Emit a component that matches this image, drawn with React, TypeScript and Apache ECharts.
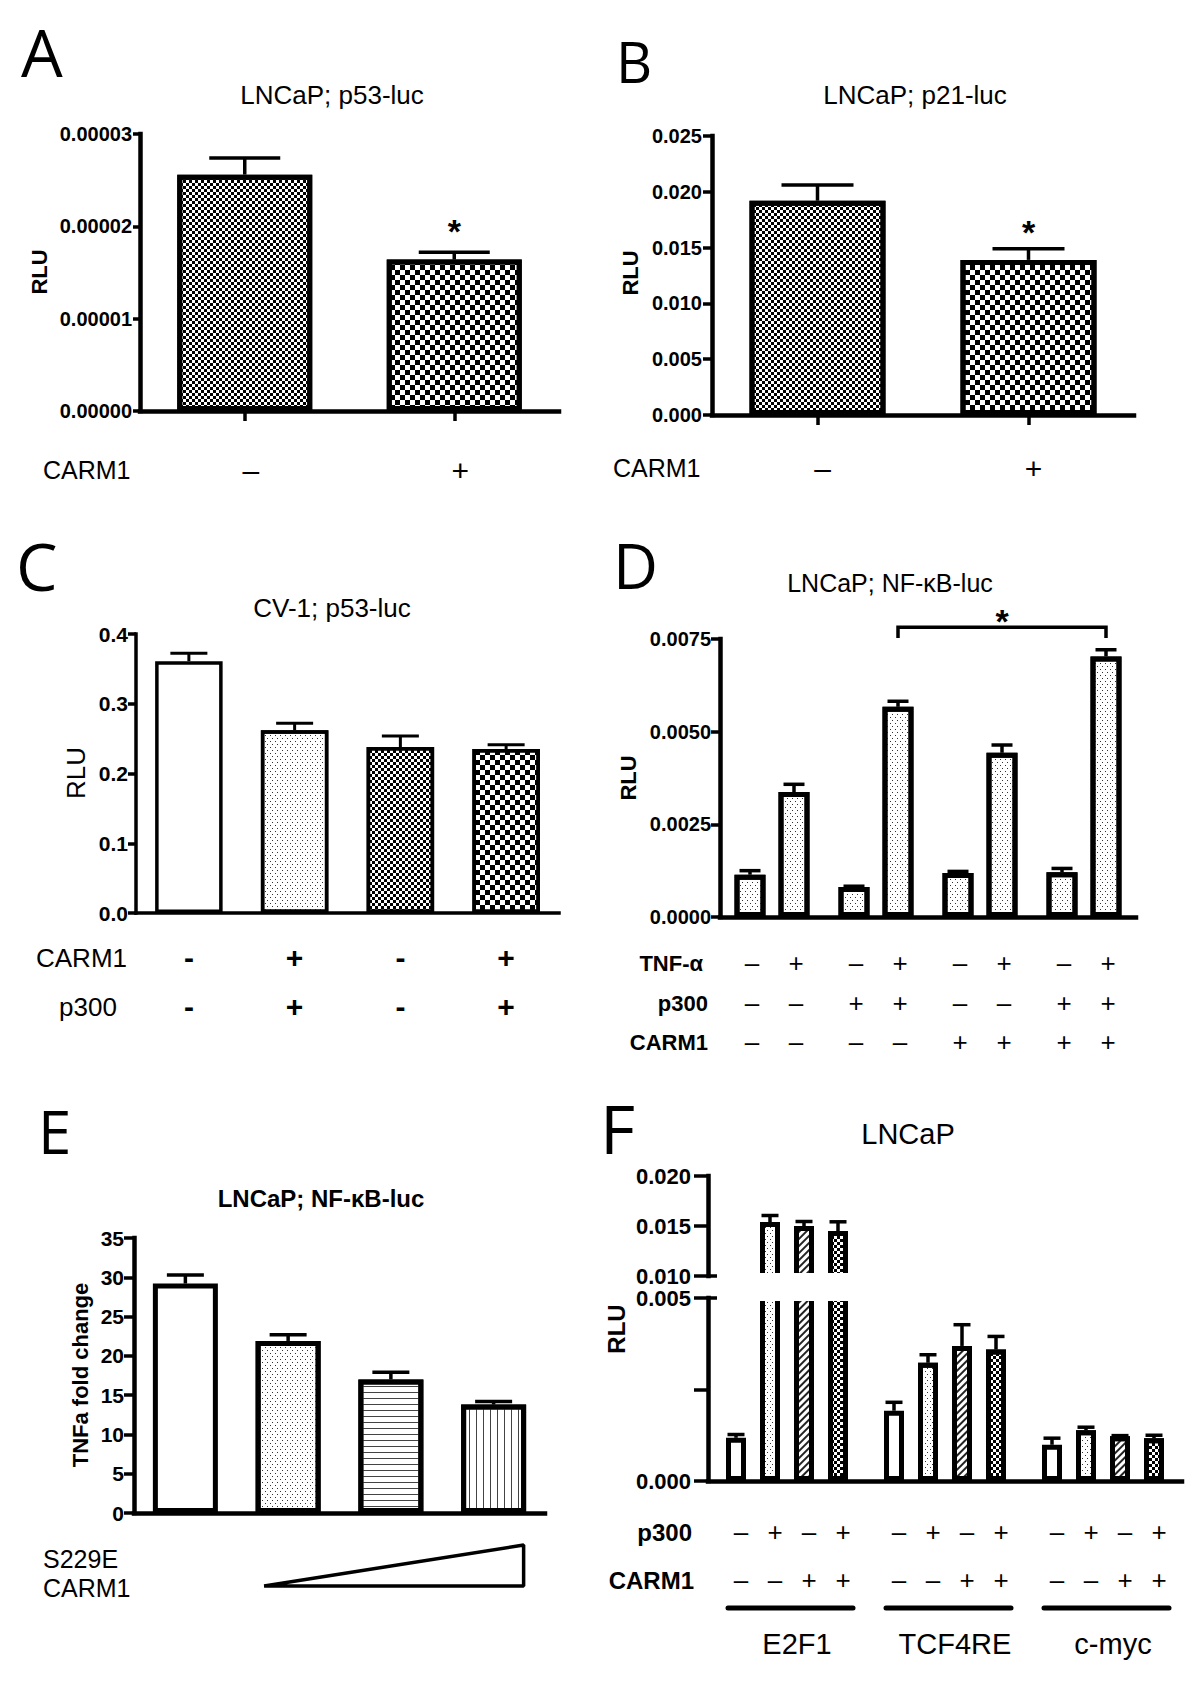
import React, { useEffect, useRef } from 'react';
import * as echarts from 'echarts';

const FONT = '"Liberation Sans", Arial, Helvetica, sans-serif';
const LETTER_FONT = '"Open Sans", "Noto Sans", "DejaVu Sans", sans-serif';

/* ---------------- data ---------------- */
// Panel A: LNCaP; p53-luc
const aCarm1Labels = ['–', '+'];
const aMeans = [2.56e-5, 1.64e-5];
const aErrors = [0.18e-5, 0.08e-5];
const aSignificant = [0, 1];
const aAxisMax = 0.00003;
const aAxisStep = 0.00001;

// Panel B: LNCaP; p21-luc
const bCarm1Labels = ['–', '+'];
const bMeans = [0.0192, 0.0139];
const bErrors = [0.0014, 0.001];
const bSignificant = [0, 1];
const bAxisMax = 0.025;
const bAxisStep = 0.005;

// Panel C: CV-1; p53-luc
const cConditions = ['ctrl', 'CARM1+p300', 'ctrl2', 'CARM1+p300 b'];
const cCarm1Labels = ['-', '+', '-', '+'];
const cP300Labels = ['-', '+', '-', '+'];
const cMeans = [0.361, 0.262, 0.238, 0.235];
const cErrors = [0.0115, 0.01, 0.0158, 0.0062];
const cAxisMax = 0.4;
const cAxisStep = 0.1;

// Panel D: LNCaP; NF-kB-luc
const dGroups = ['none', 'p300', 'CARM1', 'p300+CARM1'];
const dTnfLabels = ['–', '+'];
const dP300Labels = ['–', '+', '–', '+'];
const dCarm1Labels = ['–', '–', '+', '+'];
const dMeansTnfOff = [0.00114, 0.00081, 0.00119, 0.00121];
const dErrTnfOff = [0.00011, 0.00002, 0.00004, 0.0001];
const dMeansTnfOn = [0.00337, 0.00567, 0.00443, 0.00703];
const dErrTnfOn = [0.00021, 0.00015, 0.00021, 0.00018];
const dAxisMax = 0.0075;
const dAxisStep = 0.0025;
const dBracketLevel = 0.00782;
const dBracketFoot = 0.00753;

// Panel E: LNCaP; NF-kB-luc, S229E CARM1 dose
const eDoses = ['0', 'low', 'mid', 'high'];
const eMeans = [29.2, 21.9, 17.0, 13.8];
const eErrors = [1.1, 0.8, 0.9, 0.4];
const eAxisMax = 35;
const eAxisStep = 5;

// Panel F: LNCaP reporters
const fReporters = ['E2F1', 'TCF4RE', 'c-myc'];
const fP300Labels = ['–', '+', '–', '+'];
const fCarm1Labels = ['–', '–', '+', '+'];
const fMeansControl = [0.00118, 0.00192, 0.00099];
const fErrControl = [0.00009, 0.00023, 0.00018];
const fMeansP300 = [0.0154, 0.00323, 0.00139];
const fErrP300 = [0.00065, 0.00022, 0.00008];
const fMeansCarm1 = [0.015, 0.00369, 0.00122];
const fErrCarm1 = [0.00045, 0.00058, 0.00002];
const fMeansBoth = [0.0145, 0.00359, 0.00117];
const fErrBoth = [0.00092, 0.00036, 0.00008];
const fLowerMax = 0.005;
const fLowerStep = 0.0025;
const fLowerLabelled = [0, 0.005];
const fUpperMin = 0.01;
const fUpperMax = 0.02;
const fUpperStep = 0.005;

/* ---------------- layout ---------------- */
const GA = { left: 140, top: 134, width: 419, height: 277 };
const GB = { left: 712, top: 136, width: 422, height: 279 };
const GC = { left: 136, top: 634, width: 423, height: 279 };
const GD = { left: 720, top: 639, width: 416, height: 278 };
const GE = { left: 134, top: 1238, width: 411, height: 275 };
const GFL = { left: 708, top: 1298, width: 474, height: 183 };
const GFU = { left: 708, top: 1176, width: 474, height: 100 };

const AXIS_W = 4.5;
const BORDER = 5;
const D_BAR = 31;
const D_SPACING = 44;
const F_BAR = 20;
const F_SPACING = 34;

/* ---------------- patterns ---------------- */
const decalBase = {
  symbol: 'rect',
  symbolSize: 1,
  symbolKeepAspect: false,
  color: '#000',
  maxTileWidth: 256,
  maxTileHeight: 256,
};
const DECAL: any = {
  fine: { ...decalBase, dashArrayX: [[3, 3], [0, 3, 3, 0]], dashArrayY: [3, 0] },
  coarse: { ...decalBase, dashArrayX: [[5, 5], [0, 5, 5, 0]], dashArrayY: [5, 0] },
  dots: { ...decalBase, color: '#333', dashArrayX: [[1, 4], [0, 2, 1, 2]], dashArrayY: [1, 2] },
  hLines: { ...decalBase, color: '#444', dashArrayX: [1, 0], dashArrayY: [1, 5] },
  vLines: { ...decalBase, color: '#444', dashArrayX: [1, 6], dashArrayY: [1, 0] },
  hatch: { ...decalBase, color: '#222', dashArrayX: [1, 0], dashArrayY: [2, 3], rotation: -Math.PI / 4 },
};
const aPatterns = ['fine', 'coarse'];
const bPatterns = ['fine', 'coarse'];
const cPatterns = ['', 'dots', 'fine', 'coarse'];
const ePatterns = ['', 'dots', 'hLines', 'vLines'];
const fPatterns = ['', 'dots', 'hatch', 'fine'];

/* ---------------- helpers ---------------- */
function catAxis(gridIndex: number, data: string[], cfg: any = {}) {
  return {
    type: 'category',
    gridIndex,
    data,
    boundaryGap: true,
    show: cfg.show !== false,
    axisLine: {
      show: cfg.line !== false,
      onZero: false,
      lineStyle: { color: '#000', width: cfg.lineWidth ?? AXIS_W, cap: 'square' },
    },
    axisTick: {
      show: !!cfg.tick,
      alignWithLabel: true,
      length: cfg.tickLength ?? 10,
      lineStyle: { color: '#000', width: 3.5 },
    },
    axisLabel: cfg.label
      ? { show: true, interval: 0, color: '#000', fontFamily: FONT, ...cfg.label }
      : { show: false },
    splitLine: { show: false },
  };
}

function valAxis(gridIndex: number, min: number, max: number, interval: number, decimals: number, cfg: any) {
  return {
    type: 'value',
    gridIndex,
    min,
    max,
    interval,
    axisLine: { show: true, onZero: false, lineStyle: { color: '#000', width: cfg.lineWidth ?? AXIS_W, cap: 'square' } },
    axisTick: { show: true, length: cfg.tickLength, lineStyle: { color: '#000', width: 3.5 } },
    splitLine: { show: false },
    axisLabel: {
      show: true,
      margin: cfg.margin,
      color: '#000',
      fontFamily: FONT,
      fontWeight: 'bold',
      fontSize: cfg.fontSize,
      formatter: (v: number) => {
        if (cfg.labelled && !cfg.labelled.some((l: number) => Math.abs(l - v) < 1e-9)) return '';
        return v.toFixed(decimals);
      },
    },
  };
}

function barSeries(axis: number, width: number, data: any[], extra: any = {}, borderWidth = BORDER) {
  return {
    type: 'bar',
    xAxisIndex: axis,
    yAxisIndex: axis,
    barWidth: width,
    silent: true,
    clip: true,
    itemStyle: { color: '#fff', borderColor: '#000', borderWidth, ...(extra.itemStyle || {}) },
    data,
    ...Object.fromEntries(Object.entries(extra).filter(([k]) => k !== 'itemStyle')),
  };
}

function withPatterns(values: number[], patterns: string[]) {
  return values.map((v, i) =>
    patterns[i] ? { value: v, itemStyle: { decal: DECAL[patterns[i]] } } : { value: v }
  );
}

function errorRenderer(nSlots: number, spacing: number, cap: number, lw: number, starOffset = 0) {
  return (_params: any, api: any) => {
    const cat = api.value(0);
    const mean = api.value(1);
    const err = api.value(2);
    const slot = api.value(3);
    const sig = api.value(4);
    const base = api.coord([cat, mean]);
    const top = api.coord([cat, mean + err]);
    const x = base[0] + (slot - (nSlots - 1) / 2) * spacing;
    const children: any[] = [
      { type: 'line', shape: { x1: x, y1: base[1], x2: x, y2: top[1] }, style: { stroke: '#000', lineWidth: lw } },
      {
        type: 'line',
        shape: { x1: x - cap / 2, y1: top[1], x2: x + cap / 2, y2: top[1] },
        style: { stroke: '#000', lineWidth: lw },
      },
    ];
    if (sig) {
      children.push({
        type: 'text',
        style: {
          text: '*', x, y: top[1] - starOffset, fill: '#000', fontFamily: FONT,
          fontWeight: 'bold', fontSize: 34, align: 'center', verticalAlign: 'middle',
        },
      });
    }
    return { type: 'group', children };
  };
}

function errorSeries(axis: number, data: any[], renderer: any, clip = false) {
  return {
    type: 'custom',
    xAxisIndex: axis,
    yAxisIndex: axis,
    silent: true,
    clip,
    z: 4,
    renderItem: renderer,
    data,
  };
}

function signText(text: string, x: number, y: number, size: number, weight = 'normal') {
  return {
    type: 'text',
    style: {
      text, x, y, fill: '#000', fontFamily: FONT, fontSize: size, fontWeight: weight,
      align: 'center', verticalAlign: 'middle',
    },
  };
}

function T(text: string, x: number, y: number, size: number, opt: any = {}) {
  return {
    type: 'text',
    x,
    y,
    rotation: opt.rotation || 0,
    silent: true,
    z: 10,
    style: {
      text,
      fill: '#000',
      fontFamily: opt.family || FONT,
      fontSize: size,
      fontWeight: opt.weight || 'normal',
      align: opt.align || 'center',
      verticalAlign: 'middle',
    },
  };
}

function buildOption() {
  const grids = [GA, GB, GC, GD, GE, GFL, GFU].map((g) => ({
    ...g,
    show: false,
    containLabel: false,
    outerBoundsMode: 'none',
  }));

  const xAxis = [
    catAxis(0, aCarm1Labels, {
      tick: true,
      tickLength: 10,
      label: { margin: 44, fontSize: 30, lineHeight: 30, padding: [0, 0, 0, 12] },
    }),
    catAxis(1, bCarm1Labels, {
      tick: true,
      tickLength: 10,
      label: { margin: 38, fontSize: 30, lineHeight: 30, padding: [0, 0, 0, 10] },
    }),
    catAxis(2, cConditions, {
      lineWidth: 3.5,
      label: {
        margin: 20,
        fontSize: 30,
        fontWeight: 'bold',
        lineHeight: 49,
        formatter: (_v: string, i: number) => cCarm1Labels[i] + '\n' + cP300Labels[i],
      },
    }),
    catAxis(3, dGroups, {}),
    catAxis(4, eDoses, {}),
    catAxis(5, fReporters, {}),
    catAxis(6, fReporters, { show: false, line: false }),
  ];

  const yAxis = [
    valAxis(0, 0, aAxisMax, aAxisStep, 5, { tickLength: 7, margin: 8, fontSize: 20 }),
    valAxis(1, 0, bAxisMax, bAxisStep, 3, { tickLength: 9, margin: 10, fontSize: 20 }),
    valAxis(2, 0, cAxisMax, cAxisStep, 1, { tickLength: 8, margin: 8, fontSize: 21, lineWidth: 3.5 }),
    valAxis(3, 0, dAxisMax, dAxisStep, 4, { tickLength: 9, margin: 9, fontSize: 20 }),
    valAxis(4, 0, eAxisMax, eAxisStep, 0, { tickLength: 10, margin: 10, fontSize: 21 }),
    valAxis(5, 0, fLowerMax, fLowerStep, 3, { tickLength: 14, margin: 17, fontSize: 22, labelled: fLowerLabelled }),
    valAxis(6, fUpperMin, fUpperMax, fUpperStep, 3, { tickLength: 14, margin: 17, fontSize: 22 }),
  ];

  const dGap = `${((D_SPACING - D_BAR) / D_BAR) * 100}%`;
  const fGap = `${((F_SPACING - F_BAR) / F_BAR) * 100}%`;

  const fMeansBySlot = [fMeansControl, fMeansP300, fMeansCarm1, fMeansBoth];
  const fErrBySlot = [fErrControl, fErrP300, fErrCarm1, fErrBoth];
  const fErrData: any[] = [];
  fMeansBySlot.forEach((means, s) =>
    means.forEach((m, i) => fErrData.push([i, m, fErrBySlot[s][i], s, 0]))
  );

  const series: any[] = [
    // A
    barSeries(0, 135, withPatterns(aMeans, aPatterns)),
    errorSeries(0, aMeans.map((m, i) => [i, m, aErrors[i], 0, aSignificant[i]]), errorRenderer(1, 0, 71, 3.5, 21)),
    // B
    barSeries(1, 136, withPatterns(bMeans, bPatterns)),
    errorSeries(1, bMeans.map((m, i) => [i, m, bErrors[i], 0, bSignificant[i]]), errorRenderer(1, 0, 72, 3.5, 17)),
    // C
    barSeries(2, 67.5, withPatterns(cMeans, cPatterns), {}, 3.5),
    errorSeries(2, cMeans.map((m, i) => [i, m, cErrors[i], 0, 0]), errorRenderer(1, 0, 37, 3)),
    // D
    barSeries(3, D_BAR, dMeansTnfOff.map((v) => ({ value: v })), { barGap: dGap, itemStyle: { decal: DECAL.dots } }),
    barSeries(3, D_BAR, dMeansTnfOn.map((v) => ({ value: v })), { barGap: dGap, itemStyle: { decal: DECAL.dots } }),
    errorSeries(
      3,
      [
        ...dMeansTnfOff.map((m, i) => [i, m, dErrTnfOff[i], 0, 0]),
        ...dMeansTnfOn.map((m, i) => [i, m, dErrTnfOn[i], 1, 0]),
      ],
      errorRenderer(2, D_SPACING, 21, 3.5)
    ),
    {
      type: 'custom',
      xAxisIndex: 3,
      yAxisIndex: 3,
      silent: true,
      z: 4,
      data: dGroups.map((_g, i) => [i, 0]),
      renderItem: (_p: any, api: any) => {
        const i = api.value(0);
        const p = api.coord([i, 0]);
        const children: any[] = [];
        for (let s = 0; s < 2; s++) {
          const x = p[0] + (s - 0.5) * D_SPACING + 2;
          children.push(signText(dTnfLabels[s], x, p[1] + 46, 26));
          children.push(signText(dP300Labels[i], x, p[1] + 86, 26));
          children.push(signText(dCarm1Labels[i], x, p[1] + 125, 26));
        }
        return { type: 'group', children };
      },
    },
    {
      type: 'custom',
      xAxisIndex: 3,
      yAxisIndex: 3,
      silent: true,
      z: 4,
      data: [[1, 3]],
      renderItem: (_p: any, api: any) => {
        const from = api.value(0);
        const to = api.value(1);
        const x1 = api.coord([from, 0])[0] + 0.5 * D_SPACING;
        const x2 = api.coord([to, 0])[0] + 0.5 * D_SPACING;
        const yTop = api.coord([0, dBracketLevel])[1];
        const yFoot = api.coord([0, dBracketFoot])[1];
        return {
          type: 'group',
          children: [
            {
              type: 'polyline',
              shape: { points: [[x1, yFoot], [x1, yTop], [x2, yTop], [x2, yFoot]] },
              style: { stroke: '#000', lineWidth: 3.5, fill: null },
            },
            signText('*', (x1 + x2) / 2, yTop - 6, 34, 'bold'),
          ],
        };
      },
    },
    // E
    barSeries(4, 65, withPatterns(eMeans, ePatterns)),
    errorSeries(4, eMeans.map((m, i) => [i, m, eErrors[i], 0, 0]), errorRenderer(1, 0, 37, 3.5)),
  ];

  // F: lower and upper segments
  fMeansBySlot.forEach((means, s) => {
    const extra: any = { barGap: fGap };
    if (fPatterns[s]) extra.itemStyle = { decal: DECAL[fPatterns[s]] };
    series.push(barSeries(5, F_BAR, means.map((v) => ({ value: v })), extra));
  });
  fMeansBySlot.forEach((means, s) => {
    const extra: any = { barGap: fGap };
    if (fPatterns[s]) extra.itemStyle = { decal: DECAL[fPatterns[s]] };
    series.push(barSeries(6, F_BAR, means.map((v) => ({ value: v })), extra));
  });
  series.push(
    errorSeries(5, fErrData.filter((d) => d[1] + d[2] <= fLowerMax), errorRenderer(4, F_SPACING, 17, 3.5), true)
  );
  series.push(
    errorSeries(6, fErrData.filter((d) => d[1] >= fUpperMin), errorRenderer(4, F_SPACING, 17, 3.5), true)
  );
  series.push({
    type: 'custom',
    xAxisIndex: 5,
    yAxisIndex: 5,
    silent: true,
    z: 4,
    data: fReporters.map((_r, i) => [i, 0]),
    renderItem: (_p: any, api: any) => {
      const i = api.value(0);
      const p = api.coord([i, 0]);
      const children: any[] = [];
      for (let s = 0; s < 4; s++) {
        const x = p[0] + (s - 1.5) * F_SPACING + 5;
        children.push(signText(fP300Labels[s], x, p[1] + 51, 26));
        children.push(signText(fCarm1Labels[s], x, p[1] + 99, 26));
      }
      children.push({
        type: 'line',
        shape: { x1: p[0] - 59, y1: p[1] + 127, x2: p[0] + 66, y2: p[1] + 127 },
        style: { stroke: '#000', lineWidth: 5, lineCap: 'round' },
      });
      children.push(signText(fReporters[i], p[0] + 10, p[1] + 163, 29));
      return { type: 'group', children };
    },
  });

  const eBand = GE.width / eMeans.length;
  const eAxisY = GE.top + GE.height;
  const fBreakTop = GFU.top + GFU.height;
  const fBreakBottom = GFL.top;

  const graphic = [
    // panel letters
    T('A', 21, 51, 66, { family: LETTER_FONT, align: 'left' }),
    T('B', 616, 61, 56, { family: LETTER_FONT, align: 'left' }),
    T('C', 16, 565, 66, { family: LETTER_FONT, align: 'left' }),
    T('D', 613, 565, 62, { family: LETTER_FONT, align: 'left' }),
    T('E', 38, 1131, 60, { family: LETTER_FONT, align: 'left' }),
    T('F', 600, 1127, 68, { family: LETTER_FONT, align: 'left' }),
    // titles
    T('LNCaP; p53-luc', 332, 95, 26),
    T('LNCaP; p21-luc', 915, 95, 26),
    T('CV-1; p53-luc', 332, 608, 26),
    T('LNCaP; NF-κB-luc', 890, 583, 25),
    T('LNCaP; NF-κB-luc', 321, 1198, 24, { weight: 'bold' }),
    T('LNCaP', 908, 1134, 29),
    // y axis titles
    T('RLU', 39, 272, 22, { weight: 'bold', rotation: Math.PI / 2 }),
    T('RLU', 630, 273, 22, { weight: 'bold', rotation: Math.PI / 2 }),
    T('RLU', 76, 773, 26, { rotation: Math.PI / 2 }),
    T('RLU', 628, 778, 22, { weight: 'bold', rotation: Math.PI / 2 }),
    T('TNFa fold change', 80, 1375, 22, { weight: 'bold', rotation: Math.PI / 2 }),
    T('RLU', 616, 1329, 24, { weight: 'bold', rotation: Math.PI / 2 }),
    // row labels
    T('CARM1', 43, 470, 25, { align: 'left' }),
    T('CARM1', 613, 468, 25, { align: 'left' }),
    T('CARM1', 36, 958, 26, { align: 'left' }),
    T('p300', 59, 1007, 26, { align: 'left' }),
    T('TNF-α', 703, 963, 22, { weight: 'bold', align: 'right' }),
    T('p300', 708, 1003, 22, { weight: 'bold', align: 'right' }),
    T('CARM1', 708, 1042, 22, { weight: 'bold', align: 'right' }),
    T('S229E', 43, 1559, 25, { align: 'left' }),
    T('CARM1', 43, 1588, 25, { align: 'left' }),
    T('p300', 692, 1532, 24, { weight: 'bold', align: 'right' }),
    T('CARM1', 694, 1580, 24, { weight: 'bold', align: 'right' }),
    // dose triangle (E)
    {
      type: 'polygon',
      silent: true,
      z: 10,
      shape: {
        points: [
          [GE.left + 1.5 * eBand - 24, eAxisY + 73],
          [GE.left + 3.5 * eBand + 30, eAxisY + 32],
          [GE.left + 3.5 * eBand + 30, eAxisY + 73],
        ],
      },
      style: { fill: '#fff', stroke: '#000', lineWidth: 3.5, lineJoin: 'bevel' },
    },
    // axis break (F)
    {
      type: 'rect',
      silent: true,
      z: 50,
      shape: {
        x: GFU.left + 3,
        y: fBreakTop - 3,
        width: GFU.width,
        height: fBreakBottom - fBreakTop + 6,
      },
      style: { fill: '#fff' },
    },
    {
      type: 'line',
      silent: true,
      z: 51,
      shape: { x1: GFU.left, y1: fBreakTop, x2: GFU.left + 9, y2: fBreakTop },
      style: { stroke: '#000', lineWidth: 3.5 },
    },
    {
      type: 'line',
      silent: true,
      z: 51,
      shape: { x1: GFL.left, y1: fBreakBottom, x2: GFL.left + 9, y2: fBreakBottom },
      style: { stroke: '#000', lineWidth: 3.5 },
    },
  ];

  return {
    animation: false,
    backgroundColor: '#fff',
    textStyle: { fontFamily: FONT },
    grid: grids,
    xAxis,
    yAxis,
    series,
    graphic: { elements: graphic },
  };
}

export default function App() {
  const ref = useRef<HTMLDivElement>(null);
  useEffect(() => {
    if (!ref.current) return;
    const chart = echarts.init(ref.current, null, { renderer: 'svg', width: 1200, height: 1686 });
    chart.setOption(buildOption() as any);
    return () => chart.dispose();
  }, []);
  return (
    <div
      ref={ref}
      style={{ position: 'absolute', left: 0, top: 0, width: 1200, height: 1686, background: '#fff' }}
    />
  );
}
